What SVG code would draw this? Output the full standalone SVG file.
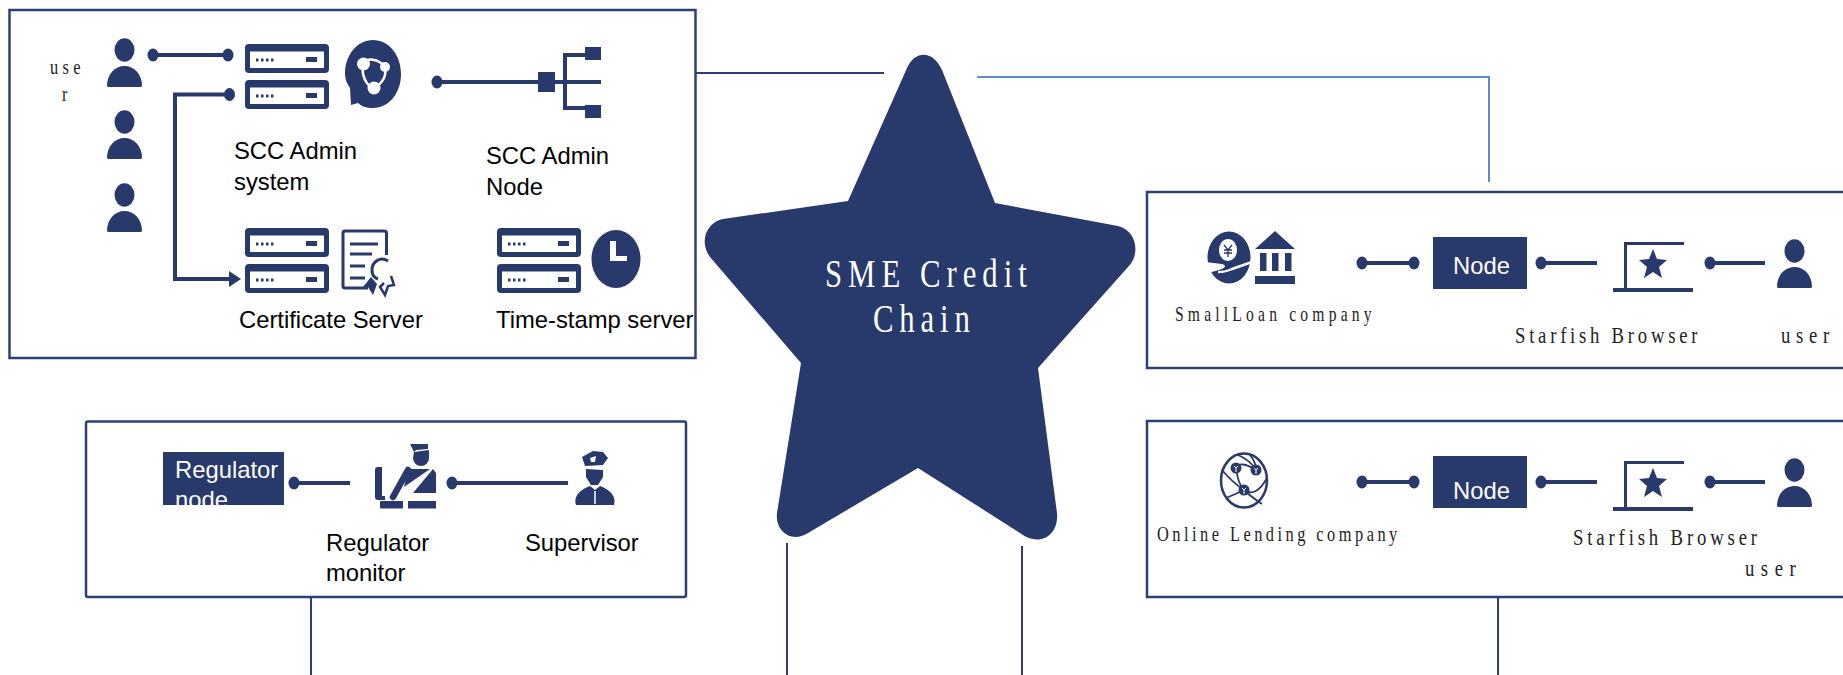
<svg xmlns="http://www.w3.org/2000/svg" width="1843" height="675" viewBox="0 0 1843 675">
<style>
.box{fill:#fff;stroke:#2b3f77;stroke-width:2.5}
.d{fill:#28396c}
.w{fill:#fff}
.ln{fill:none;stroke:#28396c;stroke-width:4}
.thin{fill:none;stroke:#2b3f77;stroke-width:2}
.wl{fill:none;stroke:#fff}
.dl{fill:none;stroke:#28396c}
.s{font-family:"Liberation Sans",Arial,sans-serif;font-size:23.8px;fill:#000}
.sw{font-family:"Liberation Sans",Arial,sans-serif;font-size:23.8px;fill:#fff}
.t{font-family:"Liberation Serif","Times New Roman",serif;fill:#222}
</style>
<defs>
<g id="srv"><rect width="84" height="29" rx="4" class="d"/><rect x="5" y="7.500" width="74" height="16.500" class="w"/><path d="M11 16h2.500M16 16h2.500M21 16h2.500M26 16h2.500" class="dl" stroke-width="3"/><rect x="61" y="13" width="11" height="5" class="d"/></g>
<g id="usr"><ellipse cx="17.500" cy="-8" rx="10" ry="11.700" class="d"/><path d="M0 20C0 8 8 0 17.500 0S35 8 35 20Q35 21 33 21H2Q0 21 0 20Z" transform="translate(0,8)" class="d"/></g>
<g id="dot"><ellipse rx="5.500" ry="6.500" class="d"/></g>
<g id="lap"><path d="M61 1.500H2.500V47" class="dl" stroke-width="3"/><path d="M2 48.500H61" class="dl" stroke-width="2.500"/><rect x="-10" y="46" width="80" height="4" class="d"/><path d="M30 7l4 10 10 1-8 7 3 11-9-6-9 6 3-11-8-7 10-1z" class="d"/></g>
<clipPath id="rc"><rect x="163" y="452" width="121" height="53"/></clipPath>
</defs>

<g id="panel-admin">
<rect class="box" x="9.500" y="10" width="686" height="348"/>
<g transform="translate(50,74) scale(.78,1)"><text class="t" font-size="21" textLength="39" lengthAdjust="spacing">use</text></g>
<g transform="translate(62,101) scale(.78,1)"><text class="t" font-size="21">r</text></g>
</g>
<g id="panel-regulator"><rect class="box" x="86" y="421.500" width="600" height="175.500" rx="2" stroke-width="3"/></g>
<g id="panel-smallloan"><rect class="box" x="1147" y="192" width="720" height="176"/></g>
<g id="panel-lending"><rect class="box" x="1147" y="421" width="720" height="176"/></g>

<g id="connectors">
<path d="M696 73H884" class="thin"/>
<path d="M977 77H1489V182" fill="none" stroke="#5b8cc8" stroke-width="2"/>
<path d="M787 543V675M1022 546V675M311 597V675M1498 597V675" class="thin"/>
<path d="M153 55H228" class="ln"/><use href="#dot" x="153" y="55"/><use href="#dot" x="228" y="55"/>
<path d="M229 94.500H175V279H232" class="ln"/><use href="#dot" x="229.500" y="94.500"/><path d="M229 271L241 279L229 287Z" class="d"/>
<path d="M437 82H538M555 82H601" class="ln"/><use href="#dot" x="437" y="82"/>
<path d="M1362 263H1414M1541 263H1597M1710 263H1765" class="ln"/>
<use href="#dot" x="1362" y="263"/><use href="#dot" x="1414" y="263"/><use href="#dot" x="1541" y="263"/><use href="#dot" x="1710" y="263"/>
<path d="M1362 482H1414M1541 482H1597M1710 482H1765" class="ln"/>
<use href="#dot" x="1362" y="482"/><use href="#dot" x="1414" y="482"/><use href="#dot" x="1541" y="482"/><use href="#dot" x="1710" y="482"/>
<path d="M294 483H350M452 483H568" class="ln"/><use href="#dot" x="294" y="483"/><use href="#dot" x="452" y="483"/>
</g>

<g id="users"><use href="#usr" x="107" y="58"/><use href="#usr" x="107" y="130"/><use href="#usr" x="107" y="203"/></g>

<g id="scc-admin-system">
<use href="#srv" x="245" y="44"/><use href="#srv" x="245" y="80"/>
<path d="M373 40C389 40 401 55 401 74S389 108 373 108C366 108 361 106 358 103L351 105L350 88C347 84 345 79 345 74C345 55 357 40 373 40Z" class="d"/>
<path d="M363 63C367 58 378 58 385 67M385 67C387 77 381 84 374 88M374 88C366 86 361 75 363 63" class="wl" stroke-width="2.500"/>
<circle cx="363.500" cy="64" r="6.500" class="w"/><circle cx="385" cy="67" r="5" class="w"/><circle cx="374" cy="88" r="6.500" class="w"/>
<text class="s" x="234" y="159">SCC Admin</text><text class="s" x="234" y="190">system</text>
</g>

<g id="scc-admin-node">
<rect x="538" y="72" width="17" height="20" class="d"/>
<path d="M585 55H565V108H585" class="ln"/>
<rect x="585" y="47" width="16" height="13" class="d"/><rect x="585" y="105" width="16" height="13" class="d"/>
<text class="s" x="486" y="164">SCC Admin</text><text class="s" x="486" y="195">Node</text>
</g>

<g id="certificate-server">
<use href="#srv" x="245" y="228"/><use href="#srv" x="245" y="264"/>
<path d="M386.500 255V233Q386.500 231 384 231H345Q343 231 343 233V286Q343 288 345 288H368" class="dl" stroke-width="3"/>
<path d="M350 244H378M350 254H372M350 266H365M350 278H365" class="dl" stroke-width="3"/>
<circle cx="381" cy="269" r="9" class="w"/><path d="M388 261C380 256 372 262 372 270C372 275 375 278 378 279" class="dl" stroke-width="3"/>
<path d="M371 277L363 287L368 287L373 295L377 284Z" class="d"/>
<path d="M384 283L380 287L385 295L388 286L394 285L391 276" class="dl" stroke-width="2.500"/>
<text class="s" x="239" y="328">Certificate Server</text>
</g>

<g id="time-stamp-server">
<use href="#srv" x="497" y="228"/><use href="#srv" x="497" y="264"/>
<ellipse cx="616" cy="259" rx="24.500" ry="29" class="d"/>
<path d="M610 241H616V256H627V261H610Z" class="w"/>
<text class="s" x="496" y="328">Time-stamp server</text>
</g>

<g id="regulator-node">
<rect x="163" y="452" width="121" height="53" class="d"/>
<g clip-path="url(#rc)"><text class="sw" x="175" y="478">Regulator</text><text class="sw" x="175" y="508">node</text></g>
</g>
<g id="regulator-monitor">
<path d="M410 444H428V449L416 450L414 452Z" class="d"/>
<path d="M414 452L429 450V458A8 8 0 0 1 413 458Z" class="d"/>
<path d="M382 467H378Q375 467 375 470V497Q375 500 378 500H385V496H382Z" class="d"/>
<path d="M408 470L393 497" class="dl" stroke-width="6.500" stroke-linecap="round"/>
<path d="M408 469H430L404 487Z" class="d"/>
<path d="M433 469L436 473V493H413Z" class="d"/>
<rect x="380" y="501" width="23" height="7.500" rx="1" class="d"/><rect x="408" y="501" width="28" height="7.500" class="d"/>
<text class="s" x="326" y="551">Regulator</text><text class="s" x="326" y="581">monitor</text>
</g>
<g id="supervisor">
<path d="M582 457L593 451L603 452L608 458L603 465L585 466Z" class="d"/>
<path d="M590 458L596 456L595 462H591Z" class="w"/>
<path d="M586 469L603 470L603 477L598 485H591L586 477Z" class="d"/>
<path d="M576 505C573 495 582 489 590 486L595 490L600 486C608 489 617 495 614 505Z" class="d"/>
<path d="M595 491V504" class="wl" stroke-width="1.500"/>
<text class="s" x="525" y="551">Supervisor</text>
</g>

<g id="sme-credit-chain">
<path d="M848 201L907 68C915 50 933 50 942 70L995 203L1118 226C1138 231 1140 256 1128 267L1038 368L1057 513C1059 535 1040 548 1020 533L918 468L808 533C790 544 775 530 777 513L801 363L710 257C698 240 708 222 723 219Z" class="d"/>
<g transform="translate(825,287) scale(.75,1)"><text class="t" style="fill:#fff" font-size="41" textLength="269" lengthAdjust="spacing">SME Credit</text></g>
<g transform="translate(873,332) scale(.75,1)"><text class="t" style="fill:#fff" font-size="41" textLength="129" lengthAdjust="spacing">Chain</text></g>
</g>

<g id="smallloan-company">
<ellipse cx="1229" cy="257.500" rx="21.500" ry="26" class="d"/>
<ellipse cx="1228" cy="250" rx="9" ry="11" class="w"/>
<path d="M1224 245L1228 250L1232 245M1228 250V257M1224 250H1232M1224 253H1232" class="dl" stroke-width="1.300"/>
<path d="M1205 262L1222 264Q1228 266 1222 269L1205 274Z" class="w"/>
<path d="M1218 272Q1226 272 1232 269L1252 262" class="wl" stroke-width="2.500"/>
<path d="M1255 249L1275 231L1295 249Z" class="d"/>
<rect x="1260" y="253" width="6.500" height="18" class="d"/><rect x="1272" y="253" width="6.500" height="18" class="d"/><rect x="1285" y="253" width="6.500" height="18" class="d"/>
<rect x="1255" y="276" width="40" height="8" class="d"/>
<g transform="translate(1175,321) scale(.78,1)"><text class="t" font-size="20" textLength="252" lengthAdjust="spacing">SmallLoan company</text></g>
</g>
<g id="node-1"><rect x="1433" y="237" width="94" height="52" class="d"/><text class="sw" x="1453" y="274" font-size="23">Node</text></g>
<g id="starfish-browser-1"><use href="#lap" x="1623" y="242"/>
<g transform="translate(1515,343) scale(.78,1)"><text class="t" font-size="24" textLength="234" lengthAdjust="spacing">Starfish Browser</text></g></g>
<g id="user-1"><use href="#usr" x="1777" y="259"/>
<g transform="translate(1781,343) scale(.78,1)"><text class="t" font-size="24" textLength="62" lengthAdjust="spacing">user</text></g></g>

<g id="online-lending-company">
<ellipse cx="1244" cy="480.500" rx="23" ry="27" fill="#fff" stroke="#28396c" stroke-width="2.500"/>
<path d="M1222 470Q1232 482 1244 490T1267 478M1226 498Q1236 494 1244 490M1236 468Q1238 484 1244 490T1262 504M1256 470Q1250 460 1238 455M1236 468Q1240 460 1256 470M1250 455Q1256 462 1256 470" class="dl" stroke-width="1.800"/>
<circle cx="1236" cy="468" r="5.500" class="d"/><circle cx="1256" cy="470" r="5.500" class="d"/><circle cx="1244" cy="490" r="5.500" class="d"/>
<path d="M1234 466L1236 468L1238 466M1236 468V472M1254 468L1256 470L1258 468M1256 470V474M1242 488L1244 490L1246 488M1244 490V494" class="wl" stroke-width="1"/>
<g transform="translate(1157,541) scale(.78,1)"><text class="t" font-size="21" textLength="308" lengthAdjust="spacing">Online Lending company</text></g>
</g>
<g id="node-2"><rect x="1433" y="456" width="94" height="52" class="d"/><text class="sw" x="1453" y="499" font-size="23">Node</text></g>
<g id="starfish-browser-2"><use href="#lap" x="1623" y="461"/>
<g transform="translate(1573,545) scale(.78,1)"><text class="t" font-size="24" textLength="236" lengthAdjust="spacing">Starfish Browser</text></g></g>
<g id="user-2"><use href="#usr" x="1777" y="478"/>
<g transform="translate(1745,576) scale(.78,1)"><text class="t" font-size="24" textLength="65" lengthAdjust="spacing">user</text></g></g>
</svg>
